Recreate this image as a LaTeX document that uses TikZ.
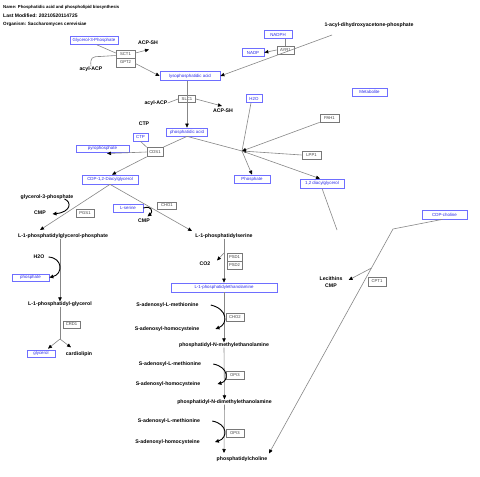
\documentclass[tikz,border=0pt]{standalone}
\usepackage{fontspec}
\setmainfont{Liberation Sans}
\usetikzlibrary{arrows.meta}
\definecolor{boxblue}{RGB}{110,110,255}
\definecolor{txtblue}{RGB}{40,40,235}
\definecolor{genegray}{RGB}{120,120,120}
\definecolor{linegray}{RGB}{135,135,135}
\begin{document}
\begin{tikzpicture}[x=1pt,y=-1pt,
  met/.style={draw=boxblue, text=txtblue, line width=0.7pt, fill=white, inner sep=0pt, minimum height=8pt, font=\fontsize{4.4}{5}\selectfont},
  gene/.style={draw=genegray, text=black!75, line width=0.7pt, fill=white, inner sep=0pt, minimum width=18pt, minimum height=8pt, font=\fontsize{4.2}{5}\selectfont},
  lab/.style={inner sep=0pt, font=\bfseries\fontsize{5.2}{6}\selectfont},
  hdr/.style={inner sep=0pt, anchor=west},
  conn/.style={draw=linegray, line width=0.6pt},
  arr/.style={conn, -{Triangle[length=4pt,width=3.4pt,color=black]}},
  curv/.style={draw=black, line width=0.9pt, -{Triangle[length=4pt,width=3.6pt,color=black]}}
]
\fill[white] (0,0) rectangle (480,477);
\useasboundingbox (0,0) rectangle (480,477);

% header
\node[hdr, font=\bfseries\fontsize{4.3}{5}\selectfont] (t1) at (3,7) {Name: Phosphatidic acid and phospholipid biosynthesis};
\node[hdr, font=\bfseries\fontsize{5.0}{6}\selectfont] (t2) at (3,15.5) {Last Modified: 20210520114725};
\node[hdr, font=\bfseries\fontsize{4.6}{5}\selectfont] (t3) at (3,24) {Organism: Saccharomyces cerevisiae};

% metabolite boxes
\node[met, minimum width=48pt] (g3p) at (94,40.5) {Glycerol-3-Phosphate};
\node[met, minimum width=60pt, minimum height=9pt] (lpa) at (190,76) {lysophosphatidic acid};
\node[met, minimum width=41pt] (pa) at (187,132) {phosphatidic acid};
\node[met, minimum width=15pt] (ctp) at (140.5,137) {CTP};
\node[met, minimum width=53pt, minimum height=7pt] (pyro) at (102.5,148.5) {pyrophosphate};
\node[met, minimum width=56pt, minimum height=9pt] (cdp) at (110,179.5) {CDP-1,2-Diacylglycerol};
\node[met, minimum width=30pt] (ser) at (128,208) {L-serine};
\node[met, minimum width=37pt, minimum height=7pt] (phos) at (30.5,277.5) {phosphate};
\node[met, minimum width=106pt, minimum height=9pt] (pe) at (224,287.5) {L-1-phosphatidylethanolamine};
\node[met, minimum width=28pt, minimum height=7pt] (glyc) at (41,353.5) {glycerol};
\node[met, minimum width=28pt] (nadph) at (278,34.5) {NADPH};
\node[met, minimum width=22pt] (nadp) at (253,52.5) {NADP};
\node[met, minimum width=16pt] (h2obox) at (254,98.5) {H2O};
\node[met, minimum width=35pt] (metab) at (369.5,92) {Metabolite};
\node[met, minimum width=36pt] (phosb) at (252,179) {Phosphate};
\node[met, minimum width=44pt, minimum height=9pt] (dag) at (322,183.5) {1,2 diacylglycerol};
\node[met, minimum width=45pt, minimum height=9pt] (cdpc) at (444.5,214.5) {CDP-choline};

% gene boxes
\node[gene, minimum width=19pt] (sct1) at (125.5,54) {SCT1};
\node[gene, minimum width=19pt, minimum height=9pt] (gpt2) at (125.5,62.5) {GPT2};
\node[gene, minimum width=17pt, minimum height=7pt] (slc1) at (187,99) {SLC1};
\node[gene, minimum width=16pt, minimum height=9pt] (cds1) at (155,152) {CDS1};
\node[gene] (pgs1) at (85,213) {PGS1};
\node[gene, minimum width=19pt, minimum height=7pt] (cho1) at (167,205.5) {CHO1};
\node[gene, minimum width=15pt] (psd1) at (234.5,257) {PSD1};
\node[gene, minimum width=15pt] (psd2) at (234.5,265) {PSD2};
\node[gene, minimum width=17pt, minimum height=7pt] (crd1) at (71.5,324.5) {CRD1};
\node[gene] (cho2) at (235,317.5) {CHO2};
\node[gene] (opi3a) at (235,375) {OPI3};
\node[gene] (opi3b) at (235,433) {OPI3};
\node[gene, minimum width=17pt] (ayr1) at (285.5,50) {AYR1};
\node[gene, minimum width=19pt] (pah1) at (329.5,118) {PAH1};
\node[gene, minimum width=19pt] (lpp1) at (311.5,155) {LPP1};
\node[gene, minimum height=9pt] (cpt1) at (377,281.5) {CPT1};

% labels
\node[lab] (adhap) at (369,25) {1-acyl-dihydroxyacetone-phosphate};
\node[lab] (acpsh1) at (148,42.5) {ACP-SH};
\node[lab] (acyl1) at (91,69) {acyl-ACP};
\node[lab] (acyl2) at (156,103) {acyl-ACP};
\node[lab] (acpsh2) at (223,110.5) {ACP-SH};
\node[lab] (ctpl) at (144,124) {CTP};
\node[lab] (g3pl) at (47,197) {glycerol-3-phosphate};
\node[lab] (cmp1) at (40,213) {CMP};
\node[lab] (cmp2) at (144,221) {CMP};
\node[lab] (pgp) at (63,236) {L-1-phosphatidylglycerol-phosphate};
\node[lab] (ps) at (224,236) {L-1-phosphatidylserine};
\node[lab] (h2ol) at (39,257) {H2O};
\node[lab] (co2) at (205,264) {CO2};
\node[lab] (pg) at (60,304) {L-1-phosphatidyl-glycerol};
\node[lab] (cardio) at (79,354) {cardiolipin};
\node[lab] (sam1) at (167.5,305) {S-adenosyl-L-methionine};
\node[lab] (sah1) at (167,329) {S-adenosyl-homocysteine};
\node[lab] (pme) at (224,345) {phosphatidyl-N-methylethanolamine};
\node[lab] (sam2) at (170,364) {S-adenosyl-L-methionine};
\node[lab] (sah2) at (168,384) {S-adenosyl-homocysteine};
\node[lab] (pdme) at (224.5,402) {phosphatidyl-N-dimethylethanolamine};
\node[lab] (sam3) at (169,421) {S-adenosyl-L-methionine};
\node[lab] (sah3) at (167.5,442) {S-adenosyl-homocysteine};
\node[lab] (pc) at (242,459) {phosphatidylcholine};
\node[lab] (lec) at (331,279) {Lecithins};
\node[lab] (cmp3) at (331,286) {CMP};

% free-end coordinates
\coordinate (ayrs) at (332,35);
\coordinate (hub) at (242,151);
\coordinate (dagend) at (337,230);
\coordinate (cbend) at (393,229);
\coordinate (cbr) at (371.5,268);
\coordinate (pctip) at (269,453.5);
\coordinate (br) at (60,339);
\coordinate (psd) at (224,253);
\coordinate (co2tip) at (217,260.5);
\coordinate (acptip1) at (149,49.5);
\coordinate (acptip2) at (222,106);
\coordinate (pyrotip) at (107,153.5);
\coordinate (pgptip) at (40,230);
\coordinate (pstip) at (192,231);
\coordinate (pc0) at (224,453);

% connectors
\draw[conn] ([xshift=3pt]g3p.south) -- ([yshift=1pt]sct1.west);
\draw[conn] (acyl1.north) .. controls (90,57.5) and (92,56.5) .. (100,56.5) -- ([yshift=-1.5pt]sct1.west);
\draw[arr] ([yshift=1pt]sct1.east) -- (acptip1);
\draw[arr] ([yshift=-1pt]gpt2.east) -- (lpa.west);
\draw[arr] (ayrs) -- (lpa.east);
\draw[conn] (nadph.south -| ayr1) -- (ayr1.north);
\draw[arr] (ayr1.west) -- (nadp.east);
\draw[arr] (lpa.south -| slc1) -- (pa.north -| slc1);
\draw[conn] (acyl2.east) -- (slc1.west);
\draw[arr] (slc1.east) -- (acptip2);
\draw[conn] (pa.south) -- (cds1.north east);
\draw[conn] (pa.south) -- (hub);
\draw[conn] (ctp.south) -- (cds1.north west);
\draw[arr] (cds1.west) -- (pyrotip);
\draw[arr] (cds1.south west) -- ([xshift=2pt]cdp.north);
\draw[arr] (cdp.south) -- (pgptip);
\draw[arr] (cdp.south) -- (pstip);
\draw[curv] ([xshift=-9pt,yshift=-2pt]g3pl.east) .. controls (72,202) and (71,212) .. ([xshift=6.5pt,yshift=-1pt]cmp1.east);
\draw[curv] (ser.east) .. controls (152,205) and (153,212) .. ([xshift=3.5pt,yshift=2.5pt]cmp2.north);
\draw[arr] (pgp.south -| pg) -- (pg.north);
\draw[curv] ([xshift=4pt]h2ol.east) .. controls (63,258) and (63,274) .. (phos.east);
\draw[conn] (pg.south) -- (br);
\draw[arr] (br) -- ([xshift=7pt,yshift=1pt]glyc.north);
\draw[arr] (br) -- ([xshift=-8pt,yshift=4pt]cardio.north);
\draw[arr] (ps.south) -- (pe.north);
\draw[arr] (psd) -- (co2tip);
\draw[arr] (pe.south) -- (pme.north);
\draw[arr] (pme.south) -- (pdme.north);
\draw[arr] (pdme.south) -- (pc0);
\draw[curv] ([xshift=12pt]sam1.east) .. controls (228,309) and (228,324) .. ([xshift=16pt]sah1.east);
\draw[curv] ([xshift=12pt]sam2.east) .. controls (229,367) and (229,381) .. ([xshift=17pt]sah2.east);
\draw[curv] ([xshift=12pt]sam3.east) .. controls (228,424) and (228,438) .. ([xshift=15pt]sah3.east);
\draw[conn] (dag.south) -- (dagend);
\draw[arr] ([xshift=-2pt]cdpc.south) -- (cbend) -- (pctip);
\draw[arr] (cbr) -- ([xshift=6pt,yshift=-1pt]lec.east);
\draw[conn] ([xshift=-3pt]h2obox.south) -- (hub);
\draw[arr] (pah1.south west) -- (hub);
\draw[arr] (lpp1.west) -- (hub);
\draw[arr] (hub) -- (phosb.north);
\draw[arr] (hub) -- ([xshift=-2pt]dag.north);
\end{tikzpicture}
\end{document}
